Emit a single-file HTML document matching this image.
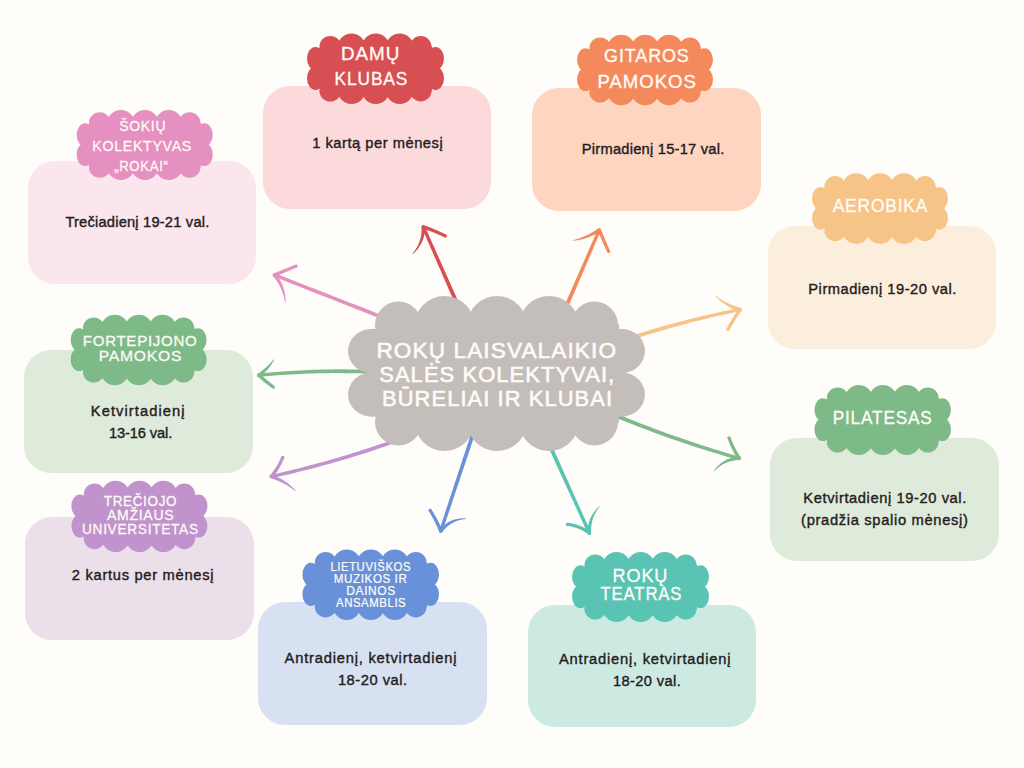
<!DOCTYPE html>
<html><head><meta charset="utf-8"><style>
html,body{margin:0;padding:0;background:#FEFDF9;width:1024px;height:768px;overflow:hidden}
svg{display:block}
text{font-family:"Liberation Sans",sans-serif}
</style></head><body>
<svg width="1024" height="768" viewBox="0 0 1024 768">
<rect width="1024" height="768" fill="#FEFDF9"/>

<g fill="#E590C0"><path d="M380.71,314.69 L376.31,312.96 L371.91,311.24 L367.50,309.52 L363.10,307.80 L358.69,306.08 L354.29,304.36 L349.88,302.63 L345.48,300.91 L341.07,299.19 L336.67,297.47 L332.26,295.75 L327.86,294.03 L323.46,292.30 L319.05,290.58 L314.65,288.86 L310.24,287.14 L305.84,285.42 L301.43,283.70 L297.03,281.97 L292.62,280.25 L288.22,278.53 L283.81,276.81 L279.41,275.09 L275.00,273.36 L273.80,276.44 L278.19,278.18 L282.59,279.93 L286.98,281.67 L291.38,283.42 L295.77,285.16 L300.17,286.90 L304.56,288.65 L308.96,290.39 L313.35,292.14 L317.75,293.88 L322.14,295.63 L326.54,297.37 L330.94,299.12 L335.33,300.86 L339.73,302.61 L344.12,304.35 L348.52,306.10 L352.91,307.84 L357.31,309.59 L361.70,311.33 L366.10,313.08 L370.49,314.82 L374.89,316.57 L379.29,318.31Z"/><path d="M272.75,274.90a1.65,1.65 0 1,1 3.30,0a1.65,1.65 0 1,1 -3.30,0Z"/><path d="M275.05,276.52 L275.96,276.15 L276.86,275.78 L277.76,275.41 L278.66,275.04 L279.57,274.67 L280.47,274.30 L281.37,273.92 L282.27,273.55 L283.18,273.18 L284.08,272.81 L284.98,272.43 L285.88,272.06 L286.78,271.69 L287.69,271.31 L288.59,270.94 L289.49,270.56 L290.39,270.19 L291.29,269.81 L292.19,269.44 L293.09,269.06 L293.99,268.69 L294.90,268.31 L295.80,267.93 L296.70,267.56 L295.50,264.64 L294.60,265.01 L293.69,265.37 L292.79,265.73 L291.88,266.09 L290.98,266.45 L290.07,266.81 L289.16,267.18 L288.26,267.54 L287.35,267.90 L286.45,268.26 L285.54,268.62 L284.63,268.98 L283.73,269.34 L282.82,269.70 L281.91,270.06 L281.01,270.41 L280.10,270.77 L279.19,271.13 L278.28,271.49 L277.38,271.85 L276.47,272.20 L275.56,272.56 L274.66,272.92 L273.75,273.28Z"/><path d="M272.65,274.90a1.75,1.75 0 1,1 3.50,0a1.75,1.75 0 1,1 -3.50,0Z"/><path d="M294.53,266.10a1.57,1.57 0 1,1 3.15,0a1.57,1.57 0 1,1 -3.15,0Z"/><path d="M273.04,276.01 L273.84,276.99 L274.61,277.98 L275.35,278.97 L276.07,279.97 L276.77,280.99 L277.43,282.01 L278.08,283.04 L278.69,284.08 L279.29,285.13 L279.85,286.20 L280.39,287.27 L280.91,288.36 L281.39,289.46 L281.86,290.58 L282.29,291.71 L282.70,292.85 L283.08,294.00 L283.44,295.17 L283.77,296.36 L284.07,297.56 L284.34,298.78 L284.59,300.01 L284.81,301.26 L285.00,302.52 L285.60,302.48 L285.60,301.19 L285.56,299.90 L285.49,298.62 L285.39,297.34 L285.24,296.08 L285.07,294.82 L284.86,293.56 L284.61,292.32 L284.33,291.08 L284.01,289.86 L283.66,288.64 L283.27,287.43 L282.85,286.23 L282.38,285.04 L281.89,283.86 L281.35,282.69 L280.78,281.53 L280.17,280.38 L279.53,279.25 L278.85,278.13 L278.13,277.02 L277.38,275.93 L276.59,274.85 L275.76,273.79Z"/><path d="M272.65,274.90a1.75,1.75 0 1,1 3.50,0a1.75,1.75 0 1,1 -3.50,0Z"/></g>
<g fill="#D74F52"><path d="M457.78,300.21 L456.41,297.13 L455.04,294.05 L453.66,290.97 L452.29,287.88 L450.91,284.80 L449.54,281.72 L448.17,278.64 L446.79,275.55 L445.42,272.47 L444.04,269.39 L442.67,266.31 L441.30,263.22 L439.92,260.14 L438.55,257.06 L437.17,253.98 L435.80,250.89 L434.43,247.81 L433.05,244.73 L431.68,241.65 L430.31,238.56 L428.93,235.48 L427.56,232.40 L426.18,229.32 L424.81,226.23 L421.79,227.57 L423.14,230.66 L424.49,233.75 L425.84,236.84 L427.19,239.94 L428.55,243.03 L429.90,246.12 L431.25,249.21 L432.60,252.31 L433.95,255.40 L435.30,258.49 L436.65,261.58 L438.00,264.68 L439.35,267.77 L440.71,270.86 L442.06,273.95 L443.41,277.05 L444.76,280.14 L446.11,283.23 L447.46,286.32 L448.81,289.42 L450.16,292.51 L451.51,295.60 L452.86,298.69 L454.22,301.79Z"/><path d="M421.65,226.90a1.65,1.65 0 1,1 3.30,0a1.65,1.65 0 1,1 -3.30,0Z"/><path d="M422.74,228.56 L423.68,228.87 L424.62,229.18 L425.55,229.50 L426.48,229.83 L427.41,230.16 L428.34,230.49 L429.27,230.83 L430.19,231.18 L431.11,231.53 L432.03,231.89 L432.95,232.25 L433.87,232.61 L434.78,232.99 L435.69,233.36 L436.60,233.74 L437.51,234.13 L438.42,234.52 L439.32,234.92 L440.22,235.32 L441.12,235.73 L442.02,236.14 L442.92,236.56 L443.81,236.98 L444.70,237.41 L446.10,234.59 L445.19,234.14 L444.29,233.69 L443.39,233.26 L442.48,232.82 L441.57,232.39 L440.65,231.97 L439.74,231.55 L438.82,231.14 L437.90,230.73 L436.98,230.33 L436.06,229.93 L435.13,229.54 L434.21,229.15 L433.28,228.77 L432.34,228.40 L431.41,228.02 L430.47,227.66 L429.53,227.30 L428.59,226.94 L427.65,226.59 L426.71,226.25 L425.76,225.91 L424.81,225.57 L423.86,225.24Z"/><path d="M421.55,226.90a1.75,1.75 0 1,1 3.50,0a1.75,1.75 0 1,1 -3.50,0Z"/><path d="M443.82,236.00a1.57,1.57 0 1,1 3.15,0a1.57,1.57 0 1,1 -3.15,0Z"/><path d="M421.55,226.94 L421.57,228.19 L421.56,229.43 L421.52,230.65 L421.45,231.85 L421.35,233.04 L421.21,234.22 L421.04,235.38 L420.83,236.53 L420.59,237.67 L420.31,238.80 L420.00,239.92 L419.66,241.02 L419.27,242.12 L418.85,243.21 L418.39,244.29 L417.89,245.36 L417.36,246.42 L416.78,247.47 L416.17,248.51 L415.51,249.55 L414.82,250.57 L414.08,251.59 L413.30,252.59 L412.49,253.59 L412.91,254.01 L413.89,253.13 L414.82,252.23 L415.72,251.30 L416.57,250.35 L417.39,249.38 L418.18,248.39 L418.92,247.37 L419.62,246.34 L420.28,245.28 L420.90,244.19 L421.48,243.08 L422.02,241.96 L422.52,240.81 L422.97,239.64 L423.38,238.44 L423.75,237.23 L424.07,236.00 L424.35,234.75 L424.58,233.47 L424.77,232.18 L424.91,230.88 L425.01,229.55 L425.05,228.21 L425.05,226.86Z"/><path d="M421.55,226.90a1.75,1.75 0 1,1 3.50,0a1.75,1.75 0 1,1 -3.50,0Z"/></g>
<g fill="#F48A5B"><path d="M567.79,307.77 L569.17,304.56 L570.54,301.35 L571.92,298.13 L573.29,294.92 L574.67,291.71 L576.05,288.49 L577.42,285.28 L578.80,282.07 L580.17,278.85 L581.55,275.64 L582.93,272.43 L584.30,269.21 L585.68,266.00 L587.05,262.79 L588.43,259.57 L589.81,256.36 L591.18,253.15 L592.56,249.93 L593.93,246.72 L595.31,243.51 L596.69,240.29 L598.06,237.08 L599.44,233.87 L600.81,230.65 L597.79,229.35 L596.39,232.55 L594.99,235.75 L593.59,238.96 L592.19,242.16 L590.79,245.36 L589.39,248.57 L587.99,251.77 L586.59,254.97 L585.19,258.18 L583.80,261.38 L582.40,264.58 L581.00,267.79 L579.60,270.99 L578.20,274.19 L576.80,277.40 L575.40,280.60 L574.00,283.80 L572.60,287.01 L571.21,290.21 L569.81,293.41 L568.41,296.62 L567.01,299.82 L565.61,303.02 L564.21,306.23Z"/><path d="M597.65,230.00a1.65,1.65 0 1,1 3.30,0a1.65,1.65 0 1,1 -3.30,0Z"/><path d="M597.68,230.67 L598.07,231.57 L598.45,232.48 L598.84,233.38 L599.22,234.28 L599.61,235.19 L600.00,236.09 L600.39,236.99 L600.78,237.89 L601.17,238.79 L601.56,239.69 L601.95,240.59 L602.35,241.49 L602.74,242.39 L603.14,243.29 L603.54,244.18 L603.94,245.08 L604.34,245.98 L604.74,246.87 L605.14,247.77 L605.54,248.67 L605.94,249.56 L606.35,250.46 L606.76,251.35 L607.16,252.24 L610.04,250.96 L609.65,250.06 L609.26,249.16 L608.87,248.27 L608.48,247.37 L608.09,246.47 L607.70,245.57 L607.32,244.67 L606.93,243.78 L606.55,242.88 L606.17,241.98 L605.78,241.08 L605.40,240.17 L605.02,239.27 L604.64,238.37 L604.27,237.47 L603.89,236.57 L603.52,235.66 L603.14,234.76 L602.77,233.86 L602.40,232.95 L602.02,232.05 L601.65,231.14 L601.28,230.24 L600.92,229.33Z"/><path d="M597.55,230.00a1.75,1.75 0 1,1 3.50,0a1.75,1.75 0 1,1 -3.50,0Z"/><path d="M607.02,251.60a1.57,1.57 0 1,1 3.15,0a1.57,1.57 0 1,1 -3.15,0Z"/><path d="M598.33,228.54 L597.35,229.20 L596.36,229.84 L595.37,230.47 L594.37,231.08 L593.37,231.68 L592.36,232.27 L591.34,232.84 L590.32,233.40 L589.29,233.94 L588.26,234.47 L587.21,234.98 L586.16,235.48 L585.10,235.96 L584.03,236.42 L582.96,236.87 L581.87,237.31 L580.78,237.72 L579.67,238.13 L578.56,238.51 L577.44,238.88 L576.31,239.24 L575.16,239.58 L574.01,239.90 L572.85,240.20 L572.95,240.80 L574.16,240.68 L575.36,240.53 L576.56,240.37 L577.75,240.18 L578.94,239.97 L580.12,239.73 L581.30,239.48 L582.47,239.20 L583.64,238.89 L584.80,238.56 L585.95,238.21 L587.10,237.84 L588.24,237.44 L589.38,237.02 L590.50,236.57 L591.62,236.10 L592.73,235.61 L593.84,235.09 L594.93,234.55 L596.02,233.98 L597.10,233.39 L598.17,232.77 L599.22,232.13 L600.27,231.46Z"/><path d="M597.55,230.00a1.75,1.75 0 1,1 3.50,0a1.75,1.75 0 1,1 -3.50,0Z"/></g>
<g fill="#F6C487"><path d="M636.60,338.36 L640.86,336.98 L645.13,335.62 L649.41,334.29 L653.69,332.98 L657.98,331.68 L662.27,330.41 L666.57,329.17 L670.88,327.94 L675.19,326.73 L679.50,325.55 L683.82,324.39 L688.15,323.24 L692.48,322.12 L696.82,321.03 L701.17,319.95 L705.51,318.89 L709.87,317.86 L714.23,316.85 L718.60,315.85 L722.97,314.88 L727.35,313.94 L731.73,313.01 L736.12,312.10 L740.52,311.22 L739.88,307.98 L735.47,308.84 L731.06,309.73 L726.65,310.63 L722.25,311.56 L717.86,312.51 L713.47,313.48 L709.09,314.47 L704.71,315.49 L700.33,316.52 L695.97,317.58 L691.61,318.66 L687.25,319.76 L682.90,320.88 L678.55,322.02 L674.21,323.19 L669.88,324.37 L665.55,325.58 L661.23,326.81 L656.91,328.06 L652.60,329.34 L648.29,330.63 L643.99,331.95 L639.69,333.28 L635.40,334.64Z"/><path d="M738.55,309.60a1.65,1.65 0 1,1 3.30,0a1.65,1.65 0 1,1 -3.30,0Z"/><path d="M738.77,308.59 L738.21,309.41 L737.66,310.22 L737.11,311.04 L736.56,311.85 L736.02,312.68 L735.48,313.50 L734.95,314.33 L734.42,315.15 L733.89,315.99 L733.37,316.82 L732.85,317.66 L732.34,318.49 L731.83,319.34 L731.33,320.18 L730.83,321.03 L730.33,321.87 L729.84,322.73 L729.35,323.58 L728.87,324.44 L728.39,325.29 L727.91,326.15 L727.44,327.02 L726.98,327.88 L726.51,328.75 L729.29,330.25 L729.75,329.40 L730.23,328.55 L730.70,327.71 L731.18,326.87 L731.67,326.03 L732.16,325.20 L732.65,324.37 L733.14,323.54 L733.64,322.71 L734.15,321.89 L734.66,321.06 L735.17,320.24 L735.69,319.43 L736.21,318.61 L736.73,317.80 L737.26,316.99 L737.79,316.18 L738.33,315.38 L738.87,314.58 L739.41,313.78 L739.96,312.98 L740.51,312.19 L741.07,311.40 L741.63,310.61Z"/><path d="M738.45,309.60a1.75,1.75 0 1,1 3.50,0a1.75,1.75 0 1,1 -3.50,0Z"/><path d="M726.32,329.50a1.57,1.57 0 1,1 3.15,0a1.57,1.57 0 1,1 -3.15,0Z"/><path d="M740.69,307.92 L739.58,307.59 L738.46,307.25 L737.36,306.90 L736.26,306.53 L735.18,306.15 L734.09,305.76 L733.02,305.35 L731.95,304.93 L730.90,304.49 L729.84,304.03 L728.80,303.56 L727.76,303.08 L726.73,302.57 L725.70,302.05 L724.68,301.51 L723.67,300.96 L722.66,300.39 L721.66,299.80 L720.67,299.19 L719.68,298.56 L718.70,297.92 L717.73,297.26 L716.76,296.57 L715.80,295.87 L715.40,296.33 L716.25,297.18 L717.11,298.01 L717.99,298.83 L718.88,299.63 L719.79,300.41 L720.71,301.16 L721.64,301.90 L722.59,302.63 L723.56,303.33 L724.53,304.01 L725.53,304.67 L726.54,305.31 L727.56,305.93 L728.59,306.52 L729.64,307.10 L730.71,307.66 L731.78,308.19 L732.88,308.70 L733.98,309.19 L735.10,309.66 L736.23,310.10 L737.38,310.52 L738.53,310.91 L739.71,311.28Z"/><path d="M738.45,309.60a1.75,1.75 0 1,1 3.50,0a1.75,1.75 0 1,1 -3.50,0Z"/></g>
<g fill="#7EBA88"><path d="M368.07,369.75 L363.50,369.62 L358.93,369.52 L354.36,369.44 L349.79,369.38 L345.22,369.35 L340.66,369.35 L336.09,369.37 L331.53,369.42 L326.97,369.49 L322.41,369.58 L317.84,369.71 L313.28,369.85 L308.73,370.02 L304.17,370.22 L299.61,370.44 L295.05,370.69 L290.50,370.96 L285.94,371.25 L281.39,371.58 L276.84,371.92 L272.29,372.29 L267.74,372.69 L263.19,373.11 L258.64,373.56 L258.96,376.84 L263.49,376.42 L268.03,376.03 L272.56,375.66 L277.10,375.31 L281.63,374.99 L286.17,374.70 L290.71,374.43 L295.24,374.18 L299.78,373.96 L304.32,373.77 L308.86,373.60 L313.40,373.45 L317.94,373.33 L322.48,373.23 L327.02,373.16 L331.57,373.12 L336.11,373.10 L340.66,373.10 L345.20,373.13 L349.75,373.18 L354.29,373.26 L358.84,373.37 L363.39,373.50 L367.93,373.65Z"/><path d="M257.15,375.20a1.65,1.65 0 1,1 3.30,0a1.65,1.65 0 1,1 -3.30,0Z"/><path d="M257.64,376.51 L258.25,377.03 L258.85,377.55 L259.45,378.07 L260.06,378.58 L260.67,379.09 L261.28,379.60 L261.88,380.11 L262.50,380.62 L263.11,381.13 L263.72,381.63 L264.33,382.14 L264.95,382.64 L265.57,383.14 L266.18,383.64 L266.80,384.13 L267.42,384.63 L268.05,385.12 L268.67,385.62 L269.29,386.11 L269.92,386.60 L270.54,387.09 L271.17,387.57 L271.80,388.06 L272.43,388.54 L274.37,386.06 L273.75,385.57 L273.14,385.08 L272.53,384.58 L271.92,384.09 L271.31,383.59 L270.70,383.09 L270.09,382.60 L269.48,382.09 L268.88,381.59 L268.28,381.09 L267.67,380.58 L267.07,380.08 L266.47,379.57 L265.87,379.06 L265.28,378.55 L264.68,378.04 L264.08,377.52 L263.49,377.01 L262.90,376.49 L262.31,375.97 L261.72,375.45 L261.13,374.93 L260.54,374.41 L259.96,373.89Z"/><path d="M257.05,375.20a1.75,1.75 0 1,1 3.50,0a1.75,1.75 0 1,1 -3.50,0Z"/><path d="M271.82,387.30a1.57,1.57 0 1,1 3.15,0a1.57,1.57 0 1,1 -3.15,0Z"/><path d="M259.81,376.63 L260.59,376.06 L261.34,375.47 L262.08,374.87 L262.81,374.26 L263.52,373.63 L264.21,372.99 L264.89,372.33 L265.56,371.67 L266.21,370.99 L266.85,370.30 L267.47,369.60 L268.08,368.89 L268.68,368.16 L269.26,367.43 L269.82,366.69 L270.37,365.93 L270.91,365.17 L271.43,364.40 L271.93,363.62 L272.43,362.82 L272.90,362.02 L273.37,361.21 L273.82,360.39 L274.25,359.56 L273.75,359.24 L273.16,359.95 L272.57,360.65 L271.97,361.34 L271.36,362.03 L270.74,362.70 L270.12,363.36 L269.49,364.01 L268.86,364.65 L268.22,365.28 L267.57,365.91 L266.91,366.52 L266.25,367.12 L265.58,367.72 L264.91,368.31 L264.22,368.88 L263.53,369.45 L262.84,370.02 L262.14,370.57 L261.43,371.12 L260.71,371.66 L259.99,372.20 L259.26,372.73 L258.53,373.25 L257.79,373.77Z"/><path d="M257.05,375.20a1.75,1.75 0 1,1 3.50,0a1.75,1.75 0 1,1 -3.50,0Z"/></g>
<g fill="#C193CD"><path d="M394.35,439.16 L389.29,440.96 L384.23,442.73 L379.17,444.48 L374.09,446.20 L369.01,447.89 L363.92,449.56 L358.82,451.20 L353.71,452.81 L348.60,454.39 L343.47,455.95 L338.34,457.49 L333.21,458.99 L328.06,460.47 L322.91,461.92 L317.74,463.35 L312.58,464.75 L307.40,466.12 L302.21,467.47 L297.02,468.79 L291.82,470.08 L286.61,471.35 L281.40,472.59 L276.17,473.80 L270.94,474.99 L271.66,478.21 L276.91,477.04 L282.16,475.85 L287.40,474.63 L292.63,473.39 L297.85,472.11 L303.07,470.81 L308.27,469.49 L313.47,468.13 L318.67,466.75 L323.85,465.35 L329.03,463.91 L334.20,462.45 L339.36,460.96 L344.52,459.45 L349.67,457.91 L354.81,456.34 L359.94,454.75 L365.06,453.13 L370.18,451.48 L375.29,449.80 L380.39,448.10 L385.49,446.37 L390.58,444.62 L395.65,442.84Z"/><path d="M269.65,476.60a1.65,1.65 0 1,1 3.30,0a1.65,1.65 0 1,1 -3.30,0Z"/><path d="M272.65,477.72 L273.26,476.96 L273.86,476.19 L274.45,475.42 L275.03,474.64 L275.60,473.86 L276.16,473.07 L276.70,472.27 L277.24,471.47 L277.76,470.66 L278.27,469.84 L278.77,469.02 L279.26,468.19 L279.74,467.36 L280.21,466.52 L280.67,465.67 L281.11,464.82 L281.54,463.96 L281.97,463.10 L282.38,462.23 L282.78,461.35 L283.17,460.46 L283.54,459.58 L283.91,458.68 L284.26,457.78 L281.34,456.62 L280.98,457.48 L280.62,458.33 L280.24,459.18 L279.86,460.01 L279.46,460.85 L279.06,461.67 L278.64,462.49 L278.22,463.31 L277.78,464.11 L277.33,464.91 L276.87,465.71 L276.40,466.50 L275.92,467.28 L275.43,468.06 L274.93,468.83 L274.42,469.59 L273.90,470.35 L273.37,471.10 L272.83,471.85 L272.27,472.59 L271.71,473.32 L271.13,474.05 L270.55,474.77 L269.95,475.48Z"/><path d="M269.55,476.60a1.75,1.75 0 1,1 3.50,0a1.75,1.75 0 1,1 -3.50,0Z"/><path d="M281.23,457.20a1.57,1.57 0 1,1 3.15,0a1.57,1.57 0 1,1 -3.15,0Z"/><path d="M270.77,478.27 L271.89,478.62 L272.99,478.98 L274.09,479.36 L275.17,479.75 L276.25,480.15 L277.32,480.57 L278.38,481.01 L279.44,481.46 L280.49,481.93 L281.52,482.42 L282.56,482.92 L283.58,483.44 L284.59,483.97 L285.60,484.53 L286.60,485.10 L287.60,485.69 L288.58,486.31 L289.56,486.93 L290.54,487.58 L291.50,488.25 L292.46,488.94 L293.41,489.64 L294.36,490.37 L295.29,491.12 L295.71,490.68 L294.89,489.79 L294.06,488.91 L293.21,488.06 L292.35,487.22 L291.47,486.40 L290.57,485.60 L289.66,484.83 L288.74,484.07 L287.79,483.33 L286.84,482.62 L285.86,481.92 L284.87,481.25 L283.87,480.60 L282.85,479.96 L281.81,479.36 L280.76,478.77 L279.70,478.21 L278.62,477.66 L277.52,477.15 L276.41,476.65 L275.29,476.18 L274.15,475.74 L272.99,475.32 L271.83,474.93Z"/><path d="M269.55,476.60a1.75,1.75 0 1,1 3.50,0a1.75,1.75 0 1,1 -3.50,0Z"/></g>
<g fill="#6991D9"><path d="M472.15,430.39 L470.78,434.55 L469.41,438.72 L468.04,442.88 L466.66,447.05 L465.29,451.22 L463.92,455.38 L462.55,459.55 L461.18,463.72 L459.81,467.88 L458.43,472.05 L457.06,476.22 L455.69,480.38 L454.32,484.55 L452.95,488.72 L451.58,492.88 L450.21,497.05 L448.83,501.21 L447.46,505.38 L446.09,509.55 L444.72,513.71 L443.35,517.88 L441.98,522.05 L440.61,526.21 L439.23,530.38 L442.37,531.42 L443.76,527.26 L445.16,523.10 L446.55,518.94 L447.95,514.79 L449.34,510.63 L450.74,506.47 L452.13,502.31 L453.53,498.15 L454.92,493.99 L456.32,489.83 L457.71,485.68 L459.11,481.52 L460.50,477.36 L461.90,473.20 L463.29,469.04 L464.69,464.88 L466.08,460.72 L467.48,456.57 L468.87,452.41 L470.27,448.25 L471.66,444.09 L473.06,439.93 L474.46,435.77 L475.85,431.61Z"/><path d="M439.15,530.90a1.65,1.65 0 1,1 3.30,0a1.65,1.65 0 1,1 -3.30,0Z"/><path d="M442.42,530.23 L442.03,529.32 L441.63,528.41 L441.23,527.51 L440.82,526.61 L440.41,525.71 L439.99,524.82 L439.56,523.93 L439.13,523.04 L438.69,522.16 L438.24,521.28 L437.79,520.41 L437.33,519.53 L436.87,518.67 L436.39,517.80 L435.92,516.94 L435.43,516.08 L434.94,515.23 L434.44,514.38 L433.94,513.53 L433.43,512.69 L432.91,511.85 L432.39,511.01 L431.86,510.18 L431.33,509.35 L428.67,511.05 L429.18,511.87 L429.69,512.69 L430.19,513.51 L430.68,514.34 L431.16,515.17 L431.64,516.00 L432.11,516.84 L432.58,517.68 L433.04,518.52 L433.49,519.37 L433.94,520.22 L434.38,521.07 L434.82,521.93 L435.25,522.79 L435.67,523.65 L436.08,524.52 L436.49,525.39 L436.90,526.26 L437.29,527.14 L437.68,528.02 L438.07,528.90 L438.45,529.79 L438.82,530.68 L439.18,531.57Z"/><path d="M439.05,530.90a1.75,1.75 0 1,1 3.50,0a1.75,1.75 0 1,1 -3.50,0Z"/><path d="M428.43,510.20a1.57,1.57 0 1,1 3.15,0a1.57,1.57 0 1,1 -3.15,0Z"/><path d="M442.17,531.99 L442.93,531.05 L443.71,530.14 L444.50,529.27 L445.31,528.43 L446.13,527.63 L446.97,526.86 L447.82,526.13 L448.70,525.43 L449.59,524.77 L450.51,524.14 L451.44,523.54 L452.40,522.98 L453.38,522.46 L454.38,521.96 L455.41,521.51 L456.46,521.08 L457.54,520.70 L458.64,520.34 L459.77,520.03 L460.92,519.75 L462.10,519.51 L463.31,519.30 L464.54,519.13 L465.80,519.00 L465.80,518.40 L464.51,518.34 L463.23,518.33 L461.97,518.35 L460.72,518.43 L459.49,518.55 L458.27,518.72 L457.07,518.93 L455.88,519.19 L454.71,519.49 L453.55,519.85 L452.41,520.25 L451.28,520.70 L450.18,521.19 L449.09,521.74 L448.02,522.33 L446.98,522.97 L445.95,523.66 L444.95,524.40 L443.96,525.18 L443.01,526.01 L442.07,526.89 L441.17,527.82 L440.28,528.79 L439.43,529.81Z"/><path d="M439.05,530.90a1.75,1.75 0 1,1 3.50,0a1.75,1.75 0 1,1 -3.50,0Z"/></g>
<g fill="#59C4B3"><path d="M548.22,446.80 L549.88,450.42 L551.53,454.04 L553.18,457.66 L554.84,461.28 L556.49,464.90 L558.14,468.52 L559.80,472.14 L561.45,475.76 L563.10,479.38 L564.75,483.00 L566.41,486.62 L568.06,490.24 L569.71,493.86 L571.37,497.48 L573.02,501.10 L574.67,504.72 L576.33,508.34 L577.98,511.96 L579.63,515.58 L581.28,519.20 L582.94,522.82 L584.59,526.44 L586.24,530.06 L587.90,533.68 L590.90,532.32 L589.27,528.69 L587.64,525.06 L586.01,521.43 L584.38,517.80 L582.75,514.17 L581.12,510.54 L579.49,506.91 L577.86,503.28 L576.23,499.65 L574.60,496.02 L572.97,492.39 L571.34,488.76 L569.71,485.13 L568.08,481.50 L566.45,477.87 L564.82,474.24 L563.19,470.61 L561.56,466.98 L559.93,463.35 L558.30,459.72 L556.67,456.09 L555.04,452.46 L553.41,448.83 L551.78,445.20Z"/><path d="M587.75,533.00a1.65,1.65 0 1,1 3.30,0a1.65,1.65 0 1,1 -3.30,0Z"/><path d="M590.44,531.59 L589.58,530.98 L588.70,530.38 L587.82,529.80 L586.93,529.25 L586.04,528.72 L585.13,528.21 L584.21,527.72 L583.29,527.25 L582.36,526.80 L581.42,526.38 L580.48,525.98 L579.52,525.60 L578.56,525.24 L577.59,524.90 L576.61,524.59 L575.63,524.29 L574.63,524.02 L573.63,523.77 L572.62,523.55 L571.61,523.34 L570.59,523.16 L569.55,522.99 L568.52,522.85 L567.47,522.73 L567.13,525.87 L568.10,525.99 L569.07,526.14 L570.03,526.30 L570.98,526.49 L571.93,526.69 L572.86,526.92 L573.79,527.16 L574.71,527.43 L575.62,527.71 L576.52,528.02 L577.42,528.35 L578.30,528.69 L579.18,529.06 L580.06,529.44 L580.92,529.85 L581.78,530.27 L582.62,530.72 L583.47,531.19 L584.30,531.67 L585.13,532.18 L585.94,532.70 L586.76,533.25 L587.56,533.82 L588.36,534.41Z"/><path d="M587.65,533.00a1.75,1.75 0 1,1 3.50,0a1.75,1.75 0 1,1 -3.50,0Z"/><path d="M565.72,524.30a1.57,1.57 0 1,1 3.15,0a1.57,1.57 0 1,1 -3.15,0Z"/><path d="M591.15,532.93 L591.11,531.68 L591.10,530.44 L591.12,529.22 L591.17,528.02 L591.26,526.84 L591.38,525.67 L591.54,524.51 L591.73,523.37 L591.96,522.24 L592.22,521.12 L592.52,520.02 L592.86,518.92 L593.24,517.84 L593.65,516.77 L594.11,515.71 L594.60,514.66 L595.13,513.62 L595.70,512.59 L596.31,511.57 L596.97,510.56 L597.67,509.55 L598.40,508.56 L599.19,507.58 L600.01,506.61 L599.59,506.19 L598.61,507.04 L597.68,507.91 L596.78,508.81 L595.92,509.73 L595.10,510.68 L594.32,511.65 L593.58,512.65 L592.88,513.67 L592.22,514.72 L591.60,515.79 L591.03,516.88 L590.49,518.00 L590.01,519.14 L589.56,520.30 L589.16,521.49 L588.81,522.69 L588.50,523.92 L588.24,525.17 L588.02,526.44 L587.85,527.73 L587.73,529.04 L587.65,530.37 L587.63,531.71 L587.65,533.07Z"/><path d="M587.65,533.00a1.75,1.75 0 1,1 3.50,0a1.75,1.75 0 1,1 -3.50,0Z"/></g>
<g fill="#7EBA88"><path d="M615.25,417.30 L620.29,419.38 L625.34,421.43 L630.40,423.45 L635.47,425.45 L640.55,427.42 L645.64,429.37 L650.73,431.29 L655.84,433.18 L660.96,435.05 L666.08,436.89 L671.21,438.70 L676.35,440.49 L681.50,442.25 L686.66,443.99 L691.83,445.69 L697.01,447.38 L702.20,449.03 L707.39,450.66 L712.60,452.27 L717.81,453.84 L723.03,455.39 L728.26,456.92 L733.51,458.42 L738.75,459.89 L739.65,456.71 L734.42,455.22 L729.20,453.70 L723.99,452.16 L718.79,450.59 L713.60,448.99 L708.42,447.37 L703.25,445.72 L698.09,444.05 L692.94,442.35 L687.79,440.62 L682.66,438.87 L677.53,437.09 L672.42,435.28 L667.31,433.45 L662.21,431.59 L657.13,429.71 L652.05,427.80 L646.98,425.87 L641.92,423.90 L636.87,421.92 L631.82,419.90 L626.79,417.86 L621.77,415.79 L616.75,413.70Z"/><path d="M737.55,458.30a1.65,1.65 0 1,1 3.30,0a1.65,1.65 0 1,1 -3.30,0Z"/><path d="M740.67,457.35 L740.16,456.56 L739.65,455.76 L739.16,454.96 L738.67,454.16 L738.18,453.35 L737.71,452.54 L737.24,451.72 L736.78,450.91 L736.33,450.08 L735.89,449.25 L735.45,448.42 L735.02,447.59 L734.60,446.75 L734.19,445.91 L733.78,445.06 L733.38,444.21 L732.99,443.35 L732.61,442.49 L732.24,441.63 L731.87,440.76 L731.51,439.89 L731.16,439.02 L730.81,438.14 L730.48,437.26 L727.52,438.34 L727.85,439.26 L728.19,440.17 L728.54,441.08 L728.90,441.98 L729.27,442.88 L729.64,443.77 L730.02,444.67 L730.41,445.55 L730.81,446.44 L731.21,447.32 L731.62,448.20 L732.04,449.07 L732.47,449.94 L732.91,450.80 L733.36,451.66 L733.81,452.52 L734.27,453.38 L734.74,454.23 L735.22,455.07 L735.70,455.92 L736.20,456.75 L736.70,457.59 L737.21,458.42 L737.73,459.25Z"/><path d="M737.45,458.30a1.75,1.75 0 1,1 3.50,0a1.75,1.75 0 1,1 -3.50,0Z"/><path d="M727.42,437.80a1.57,1.57 0 1,1 3.15,0a1.57,1.57 0 1,1 -3.15,0Z"/><path d="M739.12,456.55 L737.79,456.64 L736.47,456.79 L735.18,456.98 L733.91,457.22 L732.66,457.50 L731.43,457.84 L730.22,458.22 L729.04,458.64 L727.89,459.11 L726.75,459.62 L725.65,460.18 L724.57,460.77 L723.51,461.42 L722.48,462.10 L721.48,462.82 L720.51,463.59 L719.56,464.39 L718.64,465.24 L717.74,466.12 L716.88,467.04 L716.03,468.01 L715.22,469.00 L714.43,470.04 L713.67,471.11 L714.13,471.49 L715.03,470.55 L715.94,469.66 L716.86,468.81 L717.80,468.01 L718.75,467.24 L719.71,466.52 L720.68,465.84 L721.67,465.20 L722.66,464.60 L723.67,464.04 L724.70,463.52 L725.73,463.04 L726.78,462.59 L727.84,462.19 L728.91,461.82 L730.00,461.48 L731.10,461.18 L732.22,460.92 L733.35,460.69 L734.50,460.50 L735.67,460.34 L736.86,460.21 L738.06,460.12 L739.28,460.05Z"/><path d="M737.45,458.30a1.75,1.75 0 1,1 3.50,0a1.75,1.75 0 1,1 -3.50,0Z"/></g>
<rect x="28" y="161" width="228" height="123" rx="27" ry="27" fill="#FAE6EC"/>
<path fill="#E590C0" d="M88.98,123.10a10.78,10.61 0 1,1 21.55,0a10.78,10.61 0 1,1 -21.55,0ZM88.98,166.90a10.78,10.61 0 1,1 21.55,0a10.78,10.61 0 1,1 -21.55,0ZM178.86,123.10a10.78,10.61 0 1,1 21.55,0a10.78,10.61 0 1,1 -21.55,0ZM178.86,166.90a10.78,10.61 0 1,1 21.55,0a10.78,10.61 0 1,1 -21.55,0ZM107.10,123.55a13.76,13.55 0 1,1 27.52,0a13.76,13.55 0 1,1 -27.52,0ZM107.10,166.45a13.76,13.55 0 1,1 27.52,0a13.76,13.55 0 1,1 -27.52,0ZM131.17,123.55a13.76,13.55 0 1,1 27.52,0a13.76,13.55 0 1,1 -27.52,0ZM131.17,166.45a13.76,13.55 0 1,1 27.52,0a13.76,13.55 0 1,1 -27.52,0ZM155.02,123.55a13.76,13.55 0 1,1 27.52,0a13.76,13.55 0 1,1 -27.52,0ZM155.02,166.45a13.76,13.55 0 1,1 27.52,0a13.76,13.55 0 1,1 -27.52,0ZM76.60,134.84a8.48,11.52 0 1,1 16.97,0a8.48,11.52 0 1,1 -16.97,0ZM195.83,134.84a8.48,11.52 0 1,1 16.97,0a8.48,11.52 0 1,1 -16.97,0ZM76.60,154.48a8.48,11.52 0 1,1 16.97,0a8.48,11.52 0 1,1 -16.97,0ZM195.83,154.48a8.48,11.52 0 1,1 16.97,0a8.48,11.52 0 1,1 -16.97,0ZM89.44,122.65H200.88V167.35H89.44ZM87.61,134.84H201.79V154.26H87.61Z"/>
<text transform="translate(119.17,131.40) scale(1.0009,1)" font-size="14.00" letter-spacing="0.700" fill="#FFFBF6" stroke="#FFFBF6" stroke-width="0.252">ŠOKIŲ</text>
<text transform="translate(92.26,150.70) scale(1.0134,1)" font-size="14.00" letter-spacing="0.700" fill="#FFFBF6" stroke="#FFFBF6" stroke-width="0.252">KOLEKTYVAS</text>
<text transform="translate(114.17,170.90) scale(0.9411,1)" font-size="14.00" letter-spacing="0.700" fill="#FFFBF6" stroke="#FFFBF6" stroke-width="0.252">„ROKAI“</text>
<text transform="translate(65.41,227.00) scale(0.9500,1)" font-size="15.50" letter-spacing="0.187" fill="#241C1D" stroke="#241C1D" stroke-width="0.4">Trečiadienį 19-21 val.</text>
<rect x="263" y="86" width="228" height="123" rx="27" ry="27" fill="#FCDADB"/>
<path fill="#D74F52" d="M319.45,46.69a10.84,10.69 0 1,1 21.68,0a10.84,10.69 0 1,1 -21.68,0ZM319.45,90.81a10.84,10.69 0 1,1 21.68,0a10.84,10.69 0 1,1 -21.68,0ZM409.87,46.69a10.84,10.69 0 1,1 21.68,0a10.84,10.69 0 1,1 -21.68,0ZM409.87,90.81a10.84,10.69 0 1,1 21.68,0a10.84,10.69 0 1,1 -21.68,0ZM337.68,47.15a13.84,13.65 0 1,1 27.68,0a13.84,13.65 0 1,1 -27.68,0ZM337.68,90.35a13.84,13.65 0 1,1 27.68,0a13.84,13.65 0 1,1 -27.68,0ZM361.89,47.15a13.84,13.65 0 1,1 27.68,0a13.84,13.65 0 1,1 -27.68,0ZM361.89,90.35a13.84,13.65 0 1,1 27.68,0a13.84,13.65 0 1,1 -27.68,0ZM385.88,47.15a13.84,13.65 0 1,1 27.68,0a13.84,13.65 0 1,1 -27.68,0ZM385.88,90.35a13.84,13.65 0 1,1 27.68,0a13.84,13.65 0 1,1 -27.68,0ZM307.00,58.52a8.53,11.60 0 1,1 17.07,0a8.53,11.60 0 1,1 -17.07,0ZM426.93,58.52a8.53,11.60 0 1,1 17.07,0a8.53,11.60 0 1,1 -17.07,0ZM307.00,78.30a8.53,11.60 0 1,1 17.07,0a8.53,11.60 0 1,1 -17.07,0ZM426.93,78.30a8.53,11.60 0 1,1 17.07,0a8.53,11.60 0 1,1 -17.07,0ZM319.92,46.24H432.01V91.26H319.92ZM318.07,58.52H432.93V78.07H318.07Z"/>
<text transform="translate(340.99,60.00) scale(1.0185,1)" font-size="18.50" letter-spacing="0.925" fill="#FFFBF6" stroke="#FFFBF6" stroke-width="0.33299999999999996">DAMŲ</text>
<text transform="translate(334.51,85.40) scale(0.9390,1)" font-size="18.50" letter-spacing="0.925" fill="#FFFBF6" stroke="#FFFBF6" stroke-width="0.33299999999999996">KLUBAS</text>
<text transform="translate(312.20,147.70) scale(0.9500,1)" font-size="15.50" letter-spacing="0.532" fill="#241C1D" stroke="#241C1D" stroke-width="0.4">1 kartą per mėnesį</text>
<rect x="532" y="88" width="229" height="123" rx="27" ry="27" fill="#FDD5C1"/>
<path fill="#F48A5B" d="M589.36,48.10a10.76,10.61 0 1,1 21.52,0a10.76,10.61 0 1,1 -21.52,0ZM589.36,91.90a10.76,10.61 0 1,1 21.52,0a10.76,10.61 0 1,1 -21.52,0ZM679.11,48.10a10.76,10.61 0 1,1 21.52,0a10.76,10.61 0 1,1 -21.52,0ZM679.11,91.90a10.76,10.61 0 1,1 21.52,0a10.76,10.61 0 1,1 -21.52,0ZM607.45,48.55a13.74,13.55 0 1,1 27.47,0a13.74,13.55 0 1,1 -27.47,0ZM607.45,91.45a13.74,13.55 0 1,1 27.47,0a13.74,13.55 0 1,1 -27.47,0ZM631.49,48.55a13.74,13.55 0 1,1 27.47,0a13.74,13.55 0 1,1 -27.47,0ZM631.49,91.45a13.74,13.55 0 1,1 27.47,0a13.74,13.55 0 1,1 -27.47,0ZM655.30,48.55a13.74,13.55 0 1,1 27.47,0a13.74,13.55 0 1,1 -27.47,0ZM655.30,91.45a13.74,13.55 0 1,1 27.47,0a13.74,13.55 0 1,1 -27.47,0ZM577.00,59.84a8.47,11.52 0 1,1 16.94,0a8.47,11.52 0 1,1 -16.94,0ZM696.06,59.84a8.47,11.52 0 1,1 16.94,0a8.47,11.52 0 1,1 -16.94,0ZM577.00,79.48a8.47,11.52 0 1,1 16.94,0a8.47,11.52 0 1,1 -16.94,0ZM696.06,79.48a8.47,11.52 0 1,1 16.94,0a8.47,11.52 0 1,1 -16.94,0ZM589.82,47.65H701.09V92.35H589.82ZM587.99,59.84H702.01V79.26H587.99Z"/>
<text transform="translate(604.10,62.00) scale(0.9959,1)" font-size="18.00" letter-spacing="0.900" fill="#FFFBF6" stroke="#FFFBF6" stroke-width="0.32399999999999995">GITAROS</text>
<text transform="translate(597.51,88.00) scale(1.0346,1)" font-size="18.00" letter-spacing="0.900" fill="#FFFBF6" stroke="#FFFBF6" stroke-width="0.32399999999999995">PAMOKOS</text>
<text transform="translate(581.82,154.00) scale(0.9500,1)" font-size="15.50" letter-spacing="0.223" fill="#241C1D" stroke="#241C1D" stroke-width="0.4">Pirmadienį 15-17 val.</text>
<rect x="768" y="226" width="228" height="123" rx="27" ry="27" fill="#FCEEDD"/>
<path fill="#F6C487" d="M824.36,186.70a10.76,10.61 0 1,1 21.52,0a10.76,10.61 0 1,1 -21.52,0ZM824.36,230.50a10.76,10.61 0 1,1 21.52,0a10.76,10.61 0 1,1 -21.52,0ZM914.11,186.70a10.76,10.61 0 1,1 21.52,0a10.76,10.61 0 1,1 -21.52,0ZM914.11,230.50a10.76,10.61 0 1,1 21.52,0a10.76,10.61 0 1,1 -21.52,0ZM842.45,187.15a13.74,13.55 0 1,1 27.47,0a13.74,13.55 0 1,1 -27.47,0ZM842.45,230.05a13.74,13.55 0 1,1 27.47,0a13.74,13.55 0 1,1 -27.47,0ZM866.49,187.15a13.74,13.55 0 1,1 27.47,0a13.74,13.55 0 1,1 -27.47,0ZM866.49,230.05a13.74,13.55 0 1,1 27.47,0a13.74,13.55 0 1,1 -27.47,0ZM890.30,187.15a13.74,13.55 0 1,1 27.47,0a13.74,13.55 0 1,1 -27.47,0ZM890.30,230.05a13.74,13.55 0 1,1 27.47,0a13.74,13.55 0 1,1 -27.47,0ZM812.00,198.44a8.47,11.52 0 1,1 16.94,0a8.47,11.52 0 1,1 -16.94,0ZM931.06,198.44a8.47,11.52 0 1,1 16.94,0a8.47,11.52 0 1,1 -16.94,0ZM812.00,218.08a8.47,11.52 0 1,1 16.94,0a8.47,11.52 0 1,1 -16.94,0ZM931.06,218.08a8.47,11.52 0 1,1 16.94,0a8.47,11.52 0 1,1 -16.94,0ZM824.82,186.25H936.09V230.95H824.82ZM822.99,198.44H937.01V217.86H822.99Z"/>
<text transform="translate(832.70,212.00) scale(0.9119,1)" font-size="19.00" letter-spacing="0.950" fill="#FFFBF6" stroke="#FFFBF6" stroke-width="0.34199999999999997">AEROBIKA</text>
<text transform="translate(808.32,294.00) scale(0.9500,1)" font-size="15.50" letter-spacing="0.512" fill="#241C1D" stroke="#241C1D" stroke-width="0.4">Pirmadienį 19-20 val.</text>
<rect x="770" y="438" width="229" height="123" rx="27" ry="27" fill="#DEEADA"/>
<path fill="#7EBA88" d="M826.82,398.10a10.81,10.61 0 1,1 21.62,0a10.81,10.61 0 1,1 -21.62,0ZM826.82,441.90a10.81,10.61 0 1,1 21.62,0a10.81,10.61 0 1,1 -21.62,0ZM916.96,398.10a10.81,10.61 0 1,1 21.62,0a10.81,10.61 0 1,1 -21.62,0ZM916.96,441.90a10.81,10.61 0 1,1 21.62,0a10.81,10.61 0 1,1 -21.62,0ZM844.99,398.55a13.80,13.55 0 1,1 27.60,0a13.80,13.55 0 1,1 -27.60,0ZM844.99,441.45a13.80,13.55 0 1,1 27.60,0a13.80,13.55 0 1,1 -27.60,0ZM869.13,398.55a13.80,13.55 0 1,1 27.60,0a13.80,13.55 0 1,1 -27.60,0ZM869.13,441.45a13.80,13.55 0 1,1 27.60,0a13.80,13.55 0 1,1 -27.60,0ZM893.05,398.55a13.80,13.55 0 1,1 27.60,0a13.80,13.55 0 1,1 -27.60,0ZM893.05,441.45a13.80,13.55 0 1,1 27.60,0a13.80,13.55 0 1,1 -27.60,0ZM814.40,409.84a8.51,11.52 0 1,1 17.02,0a8.51,11.52 0 1,1 -17.02,0ZM933.98,409.84a8.51,11.52 0 1,1 17.02,0a8.51,11.52 0 1,1 -17.02,0ZM814.40,429.48a8.51,11.52 0 1,1 17.02,0a8.51,11.52 0 1,1 -17.02,0ZM933.98,429.48a8.51,11.52 0 1,1 17.02,0a8.51,11.52 0 1,1 -17.02,0ZM827.28,397.65H939.04V442.35H827.28ZM825.44,409.84H939.96V429.26H825.44Z"/>
<text transform="translate(832.63,423.70) scale(0.9044,1)" font-size="19.00" letter-spacing="0.950" fill="#FFFBF6" stroke="#FFFBF6" stroke-width="0.34199999999999997">PILATESAS</text>
<text transform="translate(803.32,503.00) scale(0.9500,1)" font-size="15.50" letter-spacing="0.606" fill="#241C1D" stroke="#241C1D" stroke-width="0.4">Ketvirtadienį 19-20 val.</text>
<text transform="translate(801.12,524.60) scale(0.9500,1)" font-size="15.50" letter-spacing="0.698" fill="#241C1D" stroke="#241C1D" stroke-width="0.4">(pradžia spalio mėnesį)</text>
<rect x="24" y="350" width="229" height="123" rx="27" ry="27" fill="#DEEADA"/>
<path fill="#7EBA88" d="M82.96,328.10a10.76,10.61 0 1,1 21.52,0a10.76,10.61 0 1,1 -21.52,0ZM82.96,371.90a10.76,10.61 0 1,1 21.52,0a10.76,10.61 0 1,1 -21.52,0ZM172.71,328.10a10.76,10.61 0 1,1 21.52,0a10.76,10.61 0 1,1 -21.52,0ZM172.71,371.90a10.76,10.61 0 1,1 21.52,0a10.76,10.61 0 1,1 -21.52,0ZM101.05,328.55a13.74,13.55 0 1,1 27.47,0a13.74,13.55 0 1,1 -27.47,0ZM101.05,371.45a13.74,13.55 0 1,1 27.47,0a13.74,13.55 0 1,1 -27.47,0ZM125.09,328.55a13.74,13.55 0 1,1 27.47,0a13.74,13.55 0 1,1 -27.47,0ZM125.09,371.45a13.74,13.55 0 1,1 27.47,0a13.74,13.55 0 1,1 -27.47,0ZM148.90,328.55a13.74,13.55 0 1,1 27.47,0a13.74,13.55 0 1,1 -27.47,0ZM148.90,371.45a13.74,13.55 0 1,1 27.47,0a13.74,13.55 0 1,1 -27.47,0ZM70.60,339.84a8.47,11.52 0 1,1 16.94,0a8.47,11.52 0 1,1 -16.94,0ZM189.66,339.84a8.47,11.52 0 1,1 16.94,0a8.47,11.52 0 1,1 -16.94,0ZM70.60,359.48a8.47,11.52 0 1,1 16.94,0a8.47,11.52 0 1,1 -16.94,0ZM189.66,359.48a8.47,11.52 0 1,1 16.94,0a8.47,11.52 0 1,1 -16.94,0ZM83.42,327.65H194.69V372.35H83.42ZM81.59,339.84H195.61V359.26H81.59Z"/>
<text transform="translate(82.80,345.70) scale(0.9688,1)" font-size="15.50" letter-spacing="0.775" fill="#FFFBF6" stroke="#FFFBF6" stroke-width="0.27899999999999997">FORTEPIJONO</text>
<text transform="translate(98.65,360.80) scale(1.0112,1)" font-size="15.50" letter-spacing="0.775" fill="#FFFBF6" stroke="#FFFBF6" stroke-width="0.27899999999999997">PAMOKOS</text>
<text transform="translate(90.82,416.00) scale(0.9500,1)" font-size="15.50" letter-spacing="1.115" fill="#241C1D" stroke="#241C1D" stroke-width="0.4">Ketvirtadienį</text>
<text transform="translate(108.90,438.00) scale(0.9500,1)" font-size="15.50" letter-spacing="-0.142" fill="#241C1D" stroke="#241C1D" stroke-width="0.4">13-16 val.</text>
<rect x="25" y="517" width="229" height="123" rx="27" ry="27" fill="#EBE0E9"/>
<path fill="#C193CD" d="M83.76,494.23a10.76,10.72 0 1,1 21.52,0a10.76,10.72 0 1,1 -21.52,0ZM83.76,538.47a10.76,10.72 0 1,1 21.52,0a10.76,10.72 0 1,1 -21.52,0ZM173.51,494.23a10.76,10.72 0 1,1 21.52,0a10.76,10.72 0 1,1 -21.52,0ZM173.51,538.47a10.76,10.72 0 1,1 21.52,0a10.76,10.72 0 1,1 -21.52,0ZM101.85,494.68a13.74,13.68 0 1,1 27.47,0a13.74,13.68 0 1,1 -27.47,0ZM101.85,538.02a13.74,13.68 0 1,1 27.47,0a13.74,13.68 0 1,1 -27.47,0ZM125.89,494.68a13.74,13.68 0 1,1 27.47,0a13.74,13.68 0 1,1 -27.47,0ZM125.89,538.02a13.74,13.68 0 1,1 27.47,0a13.74,13.68 0 1,1 -27.47,0ZM149.70,494.68a13.74,13.68 0 1,1 27.47,0a13.74,13.68 0 1,1 -27.47,0ZM149.70,538.02a13.74,13.68 0 1,1 27.47,0a13.74,13.68 0 1,1 -27.47,0ZM71.40,506.09a8.47,11.63 0 1,1 16.94,0a8.47,11.63 0 1,1 -16.94,0ZM190.46,506.09a8.47,11.63 0 1,1 16.94,0a8.47,11.63 0 1,1 -16.94,0ZM71.40,525.93a8.47,11.63 0 1,1 16.94,0a8.47,11.63 0 1,1 -16.94,0ZM190.46,525.93a8.47,11.63 0 1,1 16.94,0a8.47,11.63 0 1,1 -16.94,0ZM84.22,493.77H195.49V538.93H84.22ZM82.39,506.09H196.41V525.70H82.39Z"/>
<text transform="translate(103.73,506.40) scale(0.9631,1)" font-size="14.00" letter-spacing="0.700" fill="#FFFBF6" stroke="#FFFBF6" stroke-width="0.252">TREČIOJO</text>
<text transform="translate(107.00,520.00) scale(1.0030,1)" font-size="14.00" letter-spacing="0.700" fill="#FFFBF6" stroke="#FFFBF6" stroke-width="0.252">AMŽIAUS</text>
<text transform="translate(81.97,534.00) scale(0.9795,1)" font-size="14.00" letter-spacing="0.700" fill="#FFFBF6" stroke="#FFFBF6" stroke-width="0.252">UNIVERSITETAS</text>
<text transform="translate(71.86,580.00) scale(0.9500,1)" font-size="15.50" letter-spacing="0.723" fill="#241C1D" stroke="#241C1D" stroke-width="0.4">2 kartus per mėnesį</text>
<rect x="258" y="602" width="229" height="123" rx="27" ry="27" fill="#D7E1F1"/>
<path fill="#6991D9" d="M314.82,562.61a10.81,10.70 0 1,1 21.62,0a10.81,10.70 0 1,1 -21.62,0ZM314.82,606.79a10.81,10.70 0 1,1 21.62,0a10.81,10.70 0 1,1 -21.62,0ZM404.96,562.61a10.81,10.70 0 1,1 21.62,0a10.81,10.70 0 1,1 -21.62,0ZM404.96,606.79a10.81,10.70 0 1,1 21.62,0a10.81,10.70 0 1,1 -21.62,0ZM332.99,563.06a13.80,13.66 0 1,1 27.60,0a13.80,13.66 0 1,1 -27.60,0ZM332.99,606.34a13.80,13.66 0 1,1 27.60,0a13.80,13.66 0 1,1 -27.60,0ZM357.13,563.06a13.80,13.66 0 1,1 27.60,0a13.80,13.66 0 1,1 -27.60,0ZM357.13,606.34a13.80,13.66 0 1,1 27.60,0a13.80,13.66 0 1,1 -27.60,0ZM381.05,563.06a13.80,13.66 0 1,1 27.60,0a13.80,13.66 0 1,1 -27.60,0ZM381.05,606.34a13.80,13.66 0 1,1 27.60,0a13.80,13.66 0 1,1 -27.60,0ZM302.40,574.45a8.51,11.61 0 1,1 17.02,0a8.51,11.61 0 1,1 -17.02,0ZM421.98,574.45a8.51,11.61 0 1,1 17.02,0a8.51,11.61 0 1,1 -17.02,0ZM302.40,594.27a8.51,11.61 0 1,1 17.02,0a8.51,11.61 0 1,1 -17.02,0ZM421.98,594.27a8.51,11.61 0 1,1 17.02,0a8.51,11.61 0 1,1 -17.02,0ZM315.28,562.15H427.04V607.25H315.28ZM313.44,574.45H427.96V594.04H313.44Z"/>
<text transform="translate(330.39,571.00) scale(0.9233,1)" font-size="12.30" letter-spacing="0.615" fill="#FFFBF6" stroke="#FFFBF6" stroke-width="0.22139999999999999">LIETUVIŠKOS</text>
<text transform="translate(333.87,582.80) scale(0.9444,1)" font-size="12.30" letter-spacing="0.615" fill="#FFFBF6" stroke="#FFFBF6" stroke-width="0.22139999999999999">MUZIKOS IR</text>
<text transform="translate(346.34,594.80) scale(0.9723,1)" font-size="12.30" letter-spacing="0.615" fill="#FFFBF6" stroke="#FFFBF6" stroke-width="0.22139999999999999">DAINOS</text>
<text transform="translate(336.00,606.80) scale(0.9261,1)" font-size="12.30" letter-spacing="0.615" fill="#FFFBF6" stroke="#FFFBF6" stroke-width="0.22139999999999999">ANSAMBLIS</text>
<text transform="translate(284.60,663.00) scale(0.9500,1)" font-size="15.50" letter-spacing="0.827" fill="#241C1D" stroke="#241C1D" stroke-width="0.4">Antradienį, ketvirtadienį</text>
<text transform="translate(337.90,684.70) scale(0.9500,1)" font-size="15.50" letter-spacing="0.536" fill="#241C1D" stroke="#241C1D" stroke-width="0.4">18-20 val.</text>
<rect x="528" y="605" width="228" height="122" rx="27" ry="27" fill="#CDEAE2"/>
<path fill="#59C4B3" d="M584.45,565.10a10.84,10.61 0 1,1 21.68,0a10.84,10.61 0 1,1 -21.68,0ZM584.45,608.90a10.84,10.61 0 1,1 21.68,0a10.84,10.61 0 1,1 -21.68,0ZM674.87,565.10a10.84,10.61 0 1,1 21.68,0a10.84,10.61 0 1,1 -21.68,0ZM674.87,608.90a10.84,10.61 0 1,1 21.68,0a10.84,10.61 0 1,1 -21.68,0ZM602.68,565.55a13.84,13.55 0 1,1 27.68,0a13.84,13.55 0 1,1 -27.68,0ZM602.68,608.45a13.84,13.55 0 1,1 27.68,0a13.84,13.55 0 1,1 -27.68,0ZM626.89,565.55a13.84,13.55 0 1,1 27.68,0a13.84,13.55 0 1,1 -27.68,0ZM626.89,608.45a13.84,13.55 0 1,1 27.68,0a13.84,13.55 0 1,1 -27.68,0ZM650.88,565.55a13.84,13.55 0 1,1 27.68,0a13.84,13.55 0 1,1 -27.68,0ZM650.88,608.45a13.84,13.55 0 1,1 27.68,0a13.84,13.55 0 1,1 -27.68,0ZM572.00,576.84a8.53,11.52 0 1,1 17.07,0a8.53,11.52 0 1,1 -17.07,0ZM691.93,576.84a8.53,11.52 0 1,1 17.07,0a8.53,11.52 0 1,1 -17.07,0ZM572.00,596.48a8.53,11.52 0 1,1 17.07,0a8.53,11.52 0 1,1 -17.07,0ZM691.93,596.48a8.53,11.52 0 1,1 17.07,0a8.53,11.52 0 1,1 -17.07,0ZM584.92,564.65H697.01V609.35H584.92ZM583.07,576.84H697.93V596.26H583.07Z"/>
<text transform="translate(612.56,581.80) scale(0.9760,1)" font-size="18.50" letter-spacing="0.925" fill="#FFFBF6" stroke="#FFFBF6" stroke-width="0.33299999999999996">ROKŲ</text>
<text transform="translate(600.57,599.50) scale(0.9043,1)" font-size="18.50" letter-spacing="0.925" fill="#FFFBF6" stroke="#FFFBF6" stroke-width="0.33299999999999996">TEATRAS</text>
<text transform="translate(559.00,663.60) scale(0.9500,1)" font-size="15.50" letter-spacing="0.809" fill="#241C1D" stroke="#241C1D" stroke-width="0.4">Antradienį, ketvirtadienį</text>
<text transform="translate(612.90,686.00) scale(0.9500,1)" font-size="15.50" letter-spacing="0.384" fill="#241C1D" stroke="#241C1D" stroke-width="0.4">18-20 val.</text>
<path fill="#C4BEBA" d="M375.00,325.00a23.50,23.50 0 1,1 47.00,0a23.50,23.50 0 1,1 -47.00,0ZM375.00,422.00a23.50,23.50 0 1,1 47.00,0a23.50,23.50 0 1,1 -47.00,0ZM571.00,325.00a23.50,23.50 0 1,1 47.00,0a23.50,23.50 0 1,1 -47.00,0ZM571.00,422.00a23.50,23.50 0 1,1 47.00,0a23.50,23.50 0 1,1 -47.00,0ZM414.50,326.00a30.00,30.00 0 1,1 60.00,0a30.00,30.00 0 1,1 -60.00,0ZM414.50,421.00a30.00,30.00 0 1,1 60.00,0a30.00,30.00 0 1,1 -60.00,0ZM467.00,326.00a30.00,30.00 0 1,1 60.00,0a30.00,30.00 0 1,1 -60.00,0ZM467.00,421.00a30.00,30.00 0 1,1 60.00,0a30.00,30.00 0 1,1 -60.00,0ZM519.00,326.00a30.00,30.00 0 1,1 60.00,0a30.00,30.00 0 1,1 -60.00,0ZM519.00,421.00a30.00,30.00 0 1,1 60.00,0a30.00,30.00 0 1,1 -60.00,0ZM348.00,351.00a24.00,22.20 0 1,1 48.00,0a24.00,22.20 0 1,1 -48.00,0ZM597.00,351.00a24.00,22.20 0 1,1 48.00,0a24.00,22.20 0 1,1 -48.00,0ZM348.00,394.50a24.00,22.20 0 1,1 48.00,0a24.00,22.20 0 1,1 -48.00,0ZM597.00,394.50a24.00,22.20 0 1,1 48.00,0a24.00,22.20 0 1,1 -48.00,0ZM376.00,324.00H619.00V423.00H376.00ZM372.00,351.00H621.00V394.00H372.00Z"/>
<text transform="translate(376.39,358.40) scale(1.0499,1)" font-size="21.50" letter-spacing="1.075" fill="#FFFBF6" stroke="#FFFBF6" stroke-width="0.6">ROKŲ LAISVALAIKIO</text>
<text transform="translate(379.21,382.00) scale(1.0193,1)" font-size="21.50" letter-spacing="1.075" fill="#FFFBF6" stroke="#FFFBF6" stroke-width="0.6">SALĖS KOLEKTYVAI,</text>
<text transform="translate(382.05,406.20) scale(1.0170,1)" font-size="21.50" letter-spacing="1.075" fill="#FFFBF6" stroke="#FFFBF6" stroke-width="0.6">BŪRELIAI IR KLUBAI</text>
</svg></body></html>
